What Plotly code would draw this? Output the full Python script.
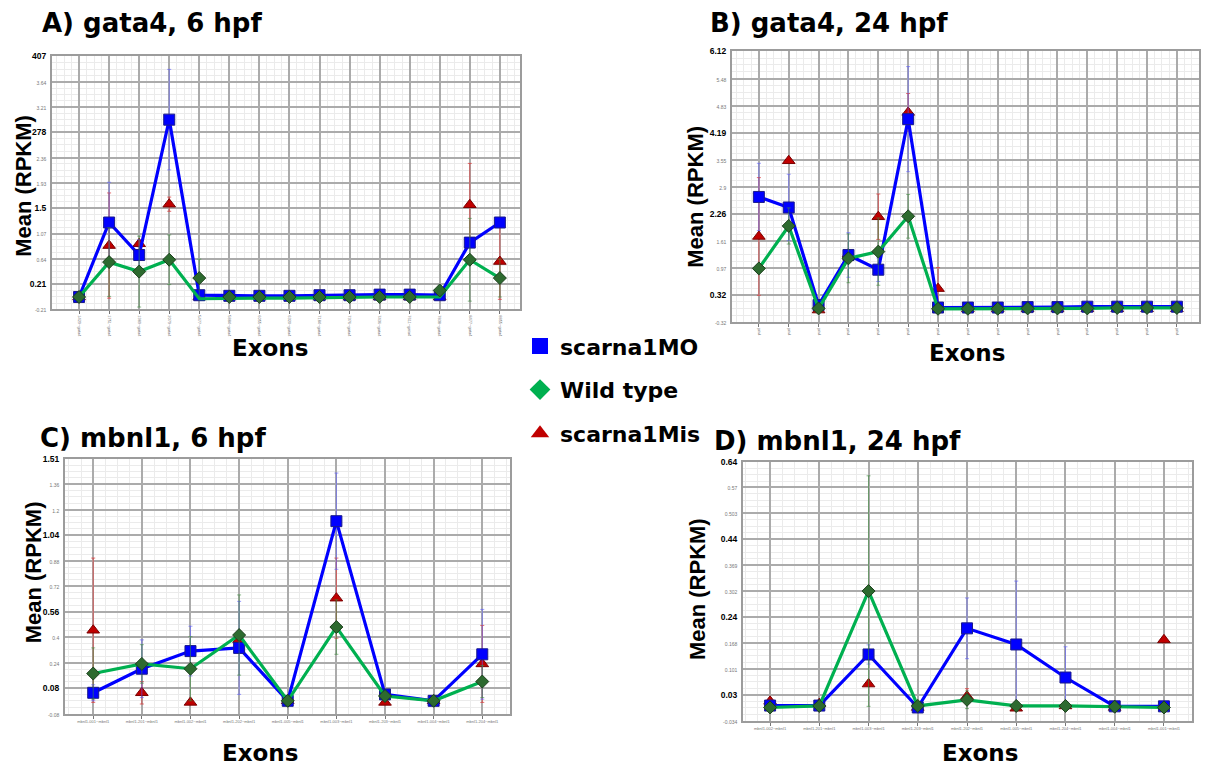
import plotly.graph_objects as go

W, H = 1210, 771

# ---------------- data ----------------
a_cats = ["1429~gata4", "1751~gata4", "1989~gata4", "2079~gata4", "5477~gata4",
          "5884~gata4", "6055~gata4", "6320~gata4", "7184~gata4", "7376~gata4",
          "7436~gata4", "7611~gata4", "7838~gata4", "8477~gata4", "8855~gata4"]
a_mo = [0.0, 1.26, 0.71, 3.0, 0.03, 0.02, 0.02, 0.02, 0.03, 0.03, 0.04, 0.04, 0.03, 0.92, 1.26]
a_mo_err = [0, 0.68, 0.26, 0.85, 0, 0, 0, 0, 0, 0, 0, 0, 0, 0, 0]
a_wt_line = [0.0, 0.59, 0.43, 0.63, -0.03, -0.02, -0.02, -0.02, -0.01, -0.01, 0.0, 0.0, 0.0, 0.63, 0.32]
a_wt = [0.0, 0.59, 0.43, 0.63, 0.32, 0.0, 0.0, 0.0, 0.0, 0.0, 0.0, 0.0, 0.11, 0.63, 0.32]
a_wt_err = [0, 0.58, 0.6, 0.42, 0.32, 0, 0, 0, 0, 0, 0, 0, 0.08, 0.7, 0.32]
a_mis = [0.0, 0.87, 0.90, 1.57, 0.0, 0.0, 0.0, 0.0, 0.0, 0.0, 0.0, 0.0, 0.0, 1.56, 0.60]
a_mis_err = [0, 0.89, 0.05, 0.12, 0, 0, 0, 0, 0, 0, 0, 0, 0, 0.70, 0.64]
a_ytext = ["-0.21", "0.21", "0.64", "1.07", "1.5", "1.93", "2.36", "278", "3.21", "3.64", "407"]

b_cats = ["gata4"] * 15
b_mo = [2.66, 2.41, 0.09, 1.28, 0.93, 4.51, 0.03, 0.03, 0.03, 0.04, 0.04, 0.05, 0.05, 0.05, 0.05]
b_mo_err = [0.8, 0.79, 0, 0.53, 0.28, 1.25, 0, 0, 0, 0, 0, 0, 0, 0, 0]
b_wt = [0.96, 1.97, 0.01, 1.2, 1.36, 2.2, 0.0, 0.0, 0.0, 0.01, 0.01, 0.01, 0.02, 0.02, 0.02]
b_wt_err = [0.1, 0.43, 0, 0.58, 0.8, 0.52, 0, 0, 0, 0, 0, 0, 0, 0, 0]
b_mis = [1.72, 3.52, -0.03, 1.3, 2.19, 4.67, 0.48, 0.0, 0.0, 0.0, 0.0, 0.0, 0.0, 0.0, 0.0]
b_mis_err = [1.4, 0, 0, 0, 0.54, 0.45, 0.5, 0, 0, 0, 0, 0, 0, 0, 0]
b_ytext = ["-0.32", "0.32", "0.97", "1.61", "2.26", "2.9", "3.55", "4.19", "4.83", "5.48", "6.12"]

c_cats = ["mbnl1-001~mbnl1", "mbnl1-201~mbnl1", "mbnl1-002~mbnl1", "mbnl1-202~mbnl1",
          "mbnl1-005~mbnl1", "mbnl1-003~mbnl1", "mbnl1-203~mbnl1", "mbnl1-004~mbnl1",
          "mbnl1-204~mbnl1"]
c_mo = [0.05, 0.2, 0.31, 0.33, 0.0, 1.12, 0.04, 0.0, 0.29]
c_mo_err = [0.05, 0.18, 0.155, 0.29, 0, 0.3, 0, 0, 0.28]
c_wt = [0.17, 0.23, 0.2, 0.41, 0.0, 0.46, 0.03, 0.0, 0.12]
c_wt_err = [0.16, 0.12, 0.2, 0.25, 0, 0.17, 0, 0, 0.1]
c_mis = [0.44, 0.05, -0.01, 0.38, 0.0, 0.64, -0.01, 0.0, 0.23]
c_mis_err = [0.45, 0.07, 0, 0, 0, 0.25, 0, 0, 0.24]
c_ytext = ["-0.08", "0.08", "0.24", "0.4", "0.56", "0.72", "0.88", "1.04", "1.2", "1.36", "1.51"]

d_cats = ["mbnl1-002~mbnl1", "mbnl1-201~mbnl1", "mbnl1-003~mbnl1", "mbnl1-203~mbnl1",
          "mbnl1-202~mbnl1", "mbnl1-005~mbnl1", "mbnl1-204~mbnl1", "mbnl1-004~mbnl1",
          "mbnl1-001~mbnl1"]
d_mo = [0.005, 0.005, 0.138, 0.0, 0.206, 0.164, 0.078, 0.003, 0.003]
d_mo_err = [0, 0, 0.025, 0, 0.079, 0.165, 0.08, 0, 0]
d_wt = [0.0, 0.004, 0.303, 0.004, 0.02, 0.004, 0.004, 0.002, 0.0]
d_wt_err = [0, 0, 0.3, 0, 0.023, 0, 0, 0, 0]
d_mis = [0.016, 0.01, 0.061, 0.0, 0.029, -0.002, 0.004, 0.0, 0.176]
d_mis_err = [0, 0, 0, 0, 0.02, 0, 0, 0, 0.008]
d_ytext = ["-0.034", "0.03", "0.101", "0.168", "0.24", "0.302", "0.369", "0.44", "0.503", "0.57", "0.64"]

titles = ["A) gata4, 6 hpf", "B) gata4, 24 hpf", "C) mbnl1, 6 hpf", "D) mbnl1, 24 hpf"]
series_names = ["scarna1MO", "Wild type", "scarna1Mis"]

# ---------------- styles ----------------
BLUE = "#0000ff"
GREEN = "#00b050"
RED = "#c00000"
BOLD = "DejaVu Sans"
AR = "Liberation Sans"


def px_x(p):
    return p / W


def px_y(p):
    return 1 - p / H


panels = [
    dict(cats=a_cats, dom=(52, 520, 52, 308), xr=(-0.9, 14.67), yr=(-0.21, 4.07), ytext=a_ytext,
         mo=a_mo, moe=a_mo_err, wtl=a_wt_line, wt=a_wt, wte=a_wt_err, mis=a_mis, mise=a_mis_err,
         angle=90, xfs=4),
    dict(cats=b_cats, dom=(732, 1199, 47, 321), xr=(-0.9, 14.74), yr=(-0.32, 6.12), ytext=b_ytext,
         mo=b_mo, moe=b_mo_err, wtl=b_wt, wt=b_wt, wte=b_wt_err, mis=b_mis, mise=b_mis_err,
         angle=90, xfs=3),
    dict(cats=c_cats, dom=(65, 510, 459, 717), xr=(-0.58, 8.57), yr=(-0.08, 1.51), ytext=c_ytext,
         mo=c_mo, moe=c_mo_err, wtl=c_wt, wt=c_wt, wte=c_wt_err, mis=c_mis, mise=c_mis_err,
         angle=0, xfs=4),
    dict(cats=d_cats, dom=(743, 1192, 462, 724), xr=(-0.55, 8.57), yr=(-0.034, 0.64), ytext=d_ytext,
         mo=d_mo, moe=d_mo_err, wtl=d_wt, wt=d_wt, wte=d_wt_err, mis=d_mis, mise=d_mis_err,
         angle=0, xfs=4),
]


def errs(a):
    return [e if e else None for e in a]


fig = go.Figure()
layout = dict(width=W, height=H, margin=dict(l=0, r=0, t=0, b=0),
              paper_bgcolor="white", plot_bgcolor="white", showlegend=True)

for i, p in enumerate(panels):
    n = i + 1
    xa = "x" if n == 1 else f"x{n}"
    ya = "y" if n == 1 else f"y{n}"
    xs = list(range(len(p["cats"])))
    fig.add_trace(go.Scatter(
        x=xs, y=p["mis"], mode="markers", xaxis=xa, yaxis=ya, showlegend=False,
        marker=dict(symbol="triangle-up", size=11, color=RED, line=dict(color="#7a0000", width=1)),
        error_y=dict(type="data", array=errs(p["mise"]), color="rgba(220,60,60,0.75)", thickness=1, width=2)))
    fig.add_trace(go.Scatter(
        x=xs, y=p["mo"], mode="lines+markers", xaxis=xa, yaxis=ya, showlegend=False,
        line=dict(color=BLUE, width=3.2),
        marker=dict(symbol="square", size=11, color=BLUE, line=dict(color="#1a1a8c", width=1)),
        error_y=dict(type="data", array=errs(p["moe"]), color="rgba(90,90,255,0.6)", thickness=1, width=2)))
    fig.add_trace(go.Scatter(
        x=xs, y=p["wtl"], mode="lines", xaxis=xa, yaxis=ya, showlegend=False,
        line=dict(color=GREEN, width=3.2)))
    fig.add_trace(go.Scatter(
        x=xs, y=p["wt"], mode="markers", xaxis=xa, yaxis=ya, showlegend=False,
        marker=dict(symbol="diamond", size=10, color="#2d6a2f", line=dict(color="#1b3f1c", width=1)),
        error_y=dict(type="data", array=errs(p["wte"]), color="rgba(60,140,60,0.6)", thickness=1, width=2)))

    x0, x1, yt, yb = p["dom"]
    lo, hi = p["yr"]
    tv = [lo + (hi - lo) * k / 10 for k in range(11)]
    tt = []
    for k, t in enumerate(p["ytext"]):
        if k % 3 == 1:
            tt.append(f"<b>{t}</b>")
        else:
            tt.append(f"<span style='font-size:5px;color:#777'>{t}</span>")
    layout["xaxis" if n == 1 else f"xaxis{n}"] = dict(
        domain=[px_x(x0), px_x(x1)], anchor=ya, range=list(p["xr"]),
        tickmode="array", tickvals=xs, ticktext=p["cats"], tickangle=p["angle"],
        tickfont=dict(size=p["xfs"], color="#777", family=AR),
        showgrid=True, gridcolor="#ababab", gridwidth=1.5, zeroline=False,
        showline=True, linecolor="#9c9c9c", linewidth=2, mirror=True,
        ticks="outside", ticklen=3, tickcolor="#777",
        minor=dict(dtick=0.25, tick0=0, showgrid=True, gridcolor="#ebebeb", gridwidth=1, ticks=""),
        fixedrange=True)
    layout["yaxis" if n == 1 else f"yaxis{n}"] = dict(
        domain=[px_y(yb), px_y(yt)], anchor=xa, range=[lo, hi],
        tickmode="array", tickvals=tv, ticktext=tt,
        tickfont=dict(size=8.5, color="black", family=AR),
        showgrid=True, gridcolor="#ababab", gridwidth=1.5, zeroline=False,
        showline=True, linecolor="#9c9c9c", linewidth=2, mirror=True,
        ticks="", ticklabelstandoff=2,
        minor=dict(dtick=(hi - lo) / 40, tick0=lo, showgrid=True, gridcolor="#ebebeb", gridwidth=1),
        fixedrange=True)

for name, sym, col in zip(series_names, ["square", "diamond", "triangle-up"], [BLUE, GREEN, RED]):
    fig.add_trace(go.Scatter(
        x=[None], y=[None], mode="markers", name=f"<b>{name}</b>", legendgroup=name,
        marker=dict(symbol=sym, size=22, color=col)))

layout["legend"] = dict(x=px_x(520), y=px_y(324), xanchor="left", yanchor="top",
                        font=dict(family=BOLD, size=22, color="black"),
                        itemsizing="trace", tracegroupgap=12, traceorder="grouped",
                        bgcolor="rgba(0,0,0,0)")

ann = []
title_pos = [(40, 18), (708, 18), (38, 438), (712, 441)]
for t, (tx, ty) in zip(titles, title_pos):
    ann.append(dict(text=f"<b>{t}</b>", x=px_x(tx), y=px_y(ty), xref="paper", yref="paper",
                    xanchor="left", yanchor="middle", showarrow=False,
                    font=dict(family=BOLD, size=26, color="black")))
for (tx, ty) in [(24, 183), (696, 194), (33, 574), (697, 591)]:
    ann.append(dict(text="<b>Mean (RPKM)</b>", x=px_x(tx), y=px_y(ty), xref="paper", yref="paper",
                    xanchor="center", yanchor="middle", textangle=-90, showarrow=False,
                    font=dict(family=AR, size=22, color="black")))
for (tx, ty) in [(270, 347), (967, 352), (260, 757), (980, 757)]:
    ann.append(dict(text="<b>Exons</b>", x=px_x(tx), y=px_y(ty), xref="paper", yref="paper",
                    xanchor="center", yanchor="middle", showarrow=False,
                    font=dict(family=BOLD, size=23, color="black")))
layout["annotations"] = ann

fig.update_layout(**layout)
fig.write_html("out.html")
